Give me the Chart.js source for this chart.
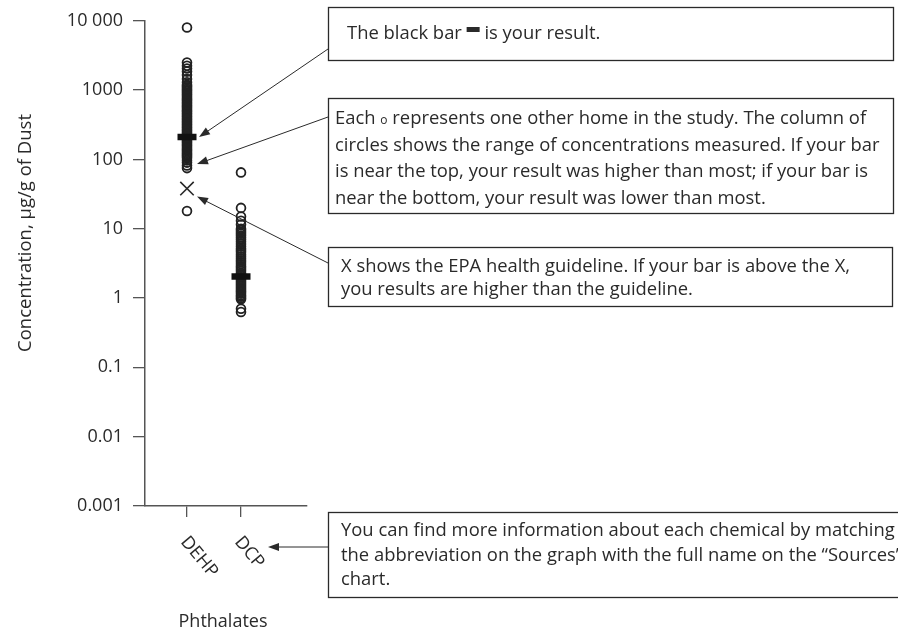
<!DOCTYPE html>
<html><head><meta charset="utf-8">
<script src="https://cdn.jsdelivr.net/npm/chart.js@4.4.0/dist/chart.umd.min.js"></script>
<style>html,body{margin:0;padding:0;background:#fff}</style>
</head><body>
<canvas id="c" width="898" height="632"></canvas>
<script>
// ---- data ----
const categories = ['DEHP', 'DCP'];
const yTickValues = [0.001, 0.01, 0.1, 1, 10, 100, 1000, 10000];
const yTickLabels = ['0.001', '0.01', '0.1', '1', '10', '100', '1000', '10 000'];
const dehpHomes = [8000, 2500, 2250, 2050, 1850, 1650, 1450, 1300,
  1200, 1150, 1100, 1050, 1000, 960, 920, 880, 840, 800, 765, 730, 700, 670, 640, 610, 585, 560, 535, 510,
  490, 468, 447, 427, 408, 390, 373, 356, 340, 325, 311, 297, 284, 271, 259, 247, 236, 226, 216, 206,
  197, 188, 180, 172, 164, 157, 150, 143, 137, 131, 125, 120, 115, 110, 105,
  97, 90, 82, 75, 18];
const dcpHomes = [65, 20, 15, 13, 11.5,
  10, 9.5, 9, 8.5, 8, 7.5, 7, 6.5, 6, 5.6, 5.2, 4.9, 4.6, 4.3, 4.0, 3.75, 3.5, 3.3, 3.1, 2.9, 2.75, 2.6, 2.45,
  2.3, 2.2, 2.1, 2.0, 1.9, 1.8, 1.72, 1.64, 1.56, 1.48, 1.41, 1.34, 1.28, 1.22, 1.16, 1.1, 1.05, 1.0, 0.96,
  0.7, 0.63];
const yourResult = [210, 2.05];
const epaGuideline = [38];
const yTitle = 'Concentration, \u03bcg/g of Dust';
const xTitle = 'Phthalates';

// ---- chart ----
const FONT = '"Open Sans", "Noto Sans", sans-serif';
const INK = '#2a2a2a';

function pts(values, xi) { return values.map(v => ({ x: xi, y: v })); }

const annotations = {
  id: 'annotations',
  afterDraw(chart) {
    const ctx = chart.ctx;
    const xs = chart.scales.x, ys = chart.scales.y;
    ctx.save();
    ctx.fillStyle = INK;
    ctx.strokeStyle = INK;

    // y title
    ctx.save();
    ctx.font = '18.5px ' + FONT;
    ctx.textAlign = 'center';
    ctx.textBaseline = 'middle';
    ctx.translate(26, 233);
    ctx.rotate(-Math.PI / 2);
    ctx.fillText(yTitle, 0, 0);
    ctx.restore();

    // x tick labels rotated clockwise
    ctx.font = '18px ' + FONT;
    categories.forEach((c, i) => {
      const px = xs.getPixelForValue(i + 1);
      ctx.save();
      ctx.translate(px - 3, 539);
      ctx.rotate(50 * Math.PI / 180);
      ctx.textAlign = 'left';
      ctx.textBaseline = 'middle';
      ctx.fillText(c, 0, 0);
      ctx.restore();
    });

    // x title
    ctx.textAlign = 'center';
    ctx.textBaseline = 'alphabetic';
    ctx.fillText(xTitle, 223, 627);

    // boxes
    ctx.lineWidth = 1.3;
    function box(x1, y1, x2, y2) { ctx.strokeRect(x1 + 0.5, y1 + 0.5, x2 - x1, y2 - y1); }
    box(328, 7, 893, 60);
    box(328, 98, 893, 213);
    box(328, 247, 892, 306);
    box(328, 512, 905, 597);

    const BF = '18.4px ' + FONT;
    ctx.font = BF;
    ctx.textAlign = 'left';
    ctx.textBaseline = 'alphabetic';
    // box 1
    let t1 = 'The black bar ';
    ctx.fillText(t1, 347, 39);
    let w1 = ctx.measureText(t1).width;
    ctx.fillRect(347 + w1, 27, 13, 5);
    ctx.fillText(' is your result.', 347 + w1 + 13, 39);
    // box 2
    const b2x = 335;
    let t2 = 'Each ';
    ctx.fillText(t2, b2x, 124);
    let w2 = ctx.measureText(t2).width;
    ctx.font = '12px ' + FONT;
    ctx.fillText('o', b2x + w2, 124);
    let wo = ctx.measureText('o').width;
    ctx.font = BF;
    ctx.fillText(' represents one other home in the study. The column of', b2x + w2 + wo, 124);
    ctx.fillText('circles shows the range of concentrations measured. If your bar', b2x, 150.5);
    ctx.fillText('is near the top, your result was higher than most; if your bar is', b2x, 177);
    ctx.fillText('near the bottom, your result was lower than most.', b2x, 203.5);
    // box 3
    ctx.fillText('X shows the EPA health guideline. If your bar is above the X,', 341, 272);
    ctx.fillText('you results are higher than the guideline.', 341, 295);
    // box 4
    ctx.fillText('You can find more information about each chemical by matching', 341, 536);
    ctx.fillText('the abbreviation on the graph with the full name on the \u201cSources\u201d', 341, 561);
    ctx.fillText('chart.', 341, 585);

    // arrows
    function arrow(x1, y1, x2, y2) {
      const a = Math.atan2(y2 - y1, x2 - x1);
      const L = 11, H = 4;
      ctx.lineWidth = 1;
      ctx.beginPath();
      ctx.moveTo(x1, y1);
      ctx.lineTo(x2 - Math.cos(a) * L * 0.8, y2 - Math.sin(a) * L * 0.8);
      ctx.stroke();
      ctx.beginPath();
      ctx.moveTo(x2, y2);
      ctx.lineTo(x2 - Math.cos(a) * L + Math.sin(a) * H, y2 - Math.sin(a) * L - Math.cos(a) * H);
      ctx.lineTo(x2 - Math.cos(a) * L - Math.sin(a) * H, y2 - Math.sin(a) * L + Math.cos(a) * H);
      ctx.closePath();
      ctx.fill();
    }
    const pDEHP = xs.getPixelForValue(1);
    const pDCP = xs.getPixelForValue(2);
    const lowCol = Math.min(...dehpHomes.filter(v => v > epaGuideline[0]));
    arrow(328, 49, pDEHP + 12, ys.getPixelForValue(yourResult[0]));
    arrow(328, 117, pDEHP + 10, ys.getPixelForValue(lowCol) - 4);
    arrow(328, 263, pDEHP + 10, ys.getPixelForValue(epaGuideline[0]) + 8);
    arrow(328, 547, pDCP + 27, 547);
    ctx.restore();
  }
};

new Chart(document.getElementById('c'), {
  type: 'scatter',
  data: {
    datasets: [
      { label: 'Your result', data: yourResult.map((v, i) => ({ x: i + 1, y: v })), pointStyle: 'line', radius: 9.5, borderWidth: 6.5, borderColor: '#111', backgroundColor: '#111', order: 0 },
      { label: 'EPA guideline', data: pts(epaGuideline, 1), pointStyle: 'crossRot', radius: 9.5, borderWidth: 1.6, borderColor: INK, order: 1 },
      { label: 'DEHP homes', data: pts(dehpHomes, 1), pointStyle: 'circle', radius: 4.4, borderWidth: 1.8, borderColor: '#222', backgroundColor: 'rgba(0,0,0,0)', order: 2 },
      { label: 'DCP homes', data: pts(dcpHomes, 2), pointStyle: 'circle', radius: 4.4, borderWidth: 1.8, borderColor: '#222', backgroundColor: 'rgba(0,0,0,0)', order: 2 }
    ]
  },
  options: {
    responsive: false,
    animation: false,
    devicePixelRatio: 1,
    layout: { padding: { left: 0, top: 20, right: 591, bottom: 126 } },
    plugins: { legend: { display: false }, tooltip: { enabled: false } },
    elements: { point: { hoverRadius: 4.4 } },
    scales: {
      x: {
        type: 'linear', position: 'bottom', min: 0.2222, max: 3.2222,
        afterFit: s => { s.height = 0; },
        afterBuildTicks: s => { s.ticks = categories.map((c, i) => ({ value: i + 1 })); },
        ticks: { display: false },
        grid: { drawOnChartArea: false, drawTicks: true, tickLength: 11, color: '#555', lineWidth: 1.3 },
        border: { display: true, color: '#555', width: 1.5 }
      },
      y: {
        type: 'logarithmic', position: 'left', min: 0.001, max: 10000,
        afterFit: s => { s.width = 145; },
        afterBuildTicks: s => { s.ticks = yTickValues.map(v => ({ value: v })); },
        ticks: { callback: (v, i) => yTickLabels[i], font: { family: FONT, size: 18 }, color: INK, padding: 10, autoSkip: false },
        grid: { drawOnChartArea: false, drawTicks: true, tickLength: 12, color: '#555', lineWidth: 1.3 },
        border: { display: true, color: '#555', width: 1.5 }
      }
    }
  },
  plugins: [annotations]
});
</script>
</body></html>
